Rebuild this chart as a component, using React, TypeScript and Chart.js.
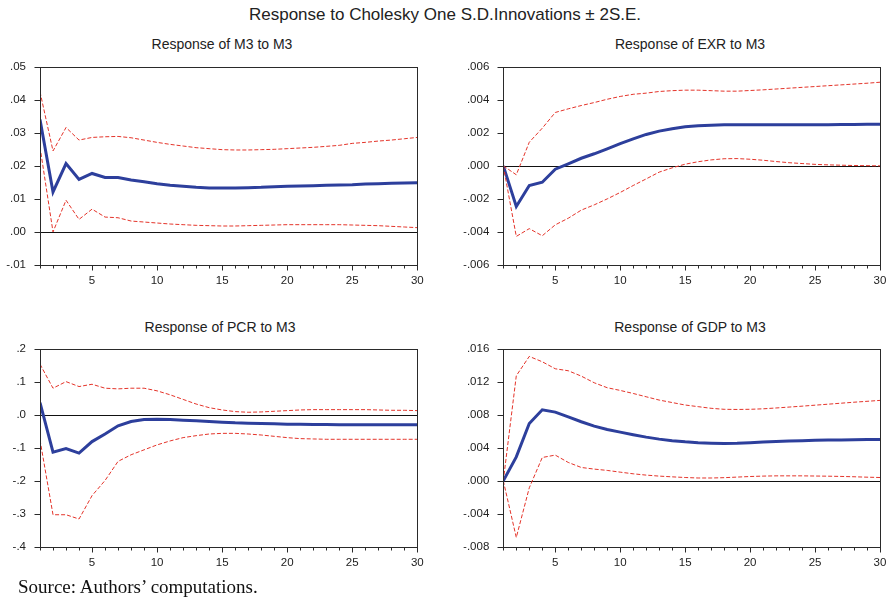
import React, { useEffect, useRef } from "react";
import { Chart, registerables } from "chart.js";

Chart.register(...registerables);

// Horizon (periods after the shock)
const periods = [
  1, 2, 3, 4, 5, 6, 7, 8, 9, 10, 11, 12, 13, 14, 15,
  16, 17, 18, 19, 20, 21, 22, 23, 24, 25, 26, 27, 28, 29, 30,
];
const xLabelTicks = [5, 10, 15, 20, 25, 30];

// Response of M3 to M3
const m3Resp = [
  0.034, 0.0121, 0.0207, 0.0159, 0.0177, 0.0165, 0.0165, 0.0157, 0.0152, 0.0146,
  0.0141, 0.0138, 0.0135, 0.0133, 0.0133, 0.0133, 0.0134, 0.0135, 0.0137, 0.0138,
  0.0139, 0.014, 0.0141, 0.0142, 0.0143, 0.0145, 0.0146, 0.0147, 0.0148, 0.0149,
];
const m3Upper = [
  0.0424, 0.0245, 0.0316, 0.0278, 0.0286, 0.0288, 0.0289, 0.0285, 0.0278, 0.0271,
  0.0265, 0.026, 0.0255, 0.0252, 0.0249, 0.0248, 0.0248, 0.0249, 0.025, 0.0252,
  0.0254, 0.0256, 0.0259, 0.0262, 0.0268, 0.0271, 0.0275, 0.0278, 0.0282, 0.0286,
];
const m3Lower = [
  0.0257, 0.0, 0.0096, 0.0038, 0.0069, 0.0045, 0.0043, 0.0033, 0.003, 0.0027,
  0.0024, 0.0022, 0.002, 0.0019, 0.0018, 0.0018, 0.0019, 0.002, 0.0021, 0.0022,
  0.0022, 0.0022, 0.0022, 0.0022, 0.0021, 0.002, 0.0019, 0.0017, 0.0015, 0.0013,
];
const m3Ticks = [-0.01, 0.0, 0.01, 0.02, 0.03, 0.04, 0.05];

// Response of EXR to M3
const exrResp = [
  0, -0.00246, -0.00119, -0.00099, -0.0002, 0.00012, 0.00046, 0.00073, 0.00103, 0.00135,
  0.00163, 0.0019, 0.0021, 0.00225, 0.00237, 0.00243, 0.00246, 0.00248, 0.00248, 0.00248,
  0.00248, 0.00248, 0.00248, 0.00248, 0.00248, 0.00249, 0.0025, 0.0025, 0.00251, 0.00252,
];
const exrUpper = [
  0, -0.00054, 0.00143, 0.00228, 0.00323, 0.00345, 0.00365, 0.00383, 0.00403, 0.0042,
  0.00433, 0.0044, 0.0045, 0.00455, 0.00458, 0.00458, 0.00455, 0.00452, 0.00452, 0.00456,
  0.0046, 0.00465, 0.0047, 0.00475, 0.0048, 0.00485, 0.0049, 0.00495, 0.005, 0.00506,
];
const exrLower = [
  0, -0.00427, -0.0038, -0.00423, -0.00357, -0.00317, -0.00268, -0.00236, -0.002, -0.00161,
  -0.00119, -0.00079, -0.00038, -0.00012, 0.0001, 0.00025, 0.00036, 0.00043, 0.00044, 0.0004,
  0.00034, 0.00026, 0.00019, 0.00014, 0.00009, 0.00006, 0.00004, 0.00002, 0.00001, 0,
];
const exrTicks = [-0.006, -0.004, -0.002, 0.0, 0.002, 0.004, 0.006];

// Response of PCR to M3
const pcrResp = [
  0.037, -0.113, -0.102, -0.116, -0.081, -0.058, -0.033, -0.02, -0.014, -0.013,
  -0.014, -0.016, -0.018, -0.02, -0.022, -0.024, -0.025, -0.026, -0.027, -0.028,
  -0.028, -0.029, -0.029, -0.03, -0.03, -0.03, -0.03, -0.03, -0.03, -0.03,
];
const pcrUpper = [
  0.154, 0.081, 0.101, 0.086, 0.093, 0.081, 0.079, 0.081, 0.081, 0.073,
  0.061, 0.047, 0.033, 0.022, 0.015, 0.01, 0.008, 0.009, 0.011, 0.013,
  0.015, 0.016, 0.016, 0.016, 0.016, 0.016, 0.015, 0.014, 0.014, 0.013,
];
const pcrLower = [
  -0.076, -0.303, -0.303, -0.316, -0.245, -0.199, -0.141, -0.121, -0.106, -0.091,
  -0.079, -0.069, -0.063, -0.058, -0.056, -0.056, -0.058, -0.061, -0.065, -0.069,
  -0.072, -0.073, -0.074, -0.074, -0.074, -0.074, -0.074, -0.074, -0.074, -0.074,
];
const pcrTicks = [-0.4, -0.3, -0.2, -0.1, 0.0, 0.1, 0.2];

// Response of GDP to M3
const gdpResp = [
  0, 0.0029, 0.00696, 0.00862, 0.00834, 0.00777, 0.00717, 0.00664, 0.00623, 0.00591,
  0.00559, 0.0053, 0.00506, 0.00487, 0.00473, 0.00463, 0.00457, 0.00453, 0.00456, 0.00463,
  0.0047, 0.00476, 0.00482, 0.00487, 0.00491, 0.00494, 0.00496, 0.00498, 0.005, 0.00502,
];
const gdpUpper = [
  0, 0.01275, 0.0151, 0.01445, 0.0136, 0.01336, 0.01271, 0.0119, 0.0113, 0.01097,
  0.0106, 0.0102, 0.0098, 0.0095, 0.0092, 0.009, 0.0088, 0.00868, 0.00866, 0.00868,
  0.00874, 0.00884, 0.00895, 0.00906, 0.00918, 0.0093, 0.00942, 0.00954, 0.00965, 0.00976,
];
const gdpLower = [
  0, -0.00688, -0.00085, 0.00283, 0.00312, 0.00223, 0.00162, 0.00142, 0.00126, 0.00105,
  0.00085, 0.00069, 0.00057, 0.00048, 0.0004, 0.00034, 0.00034, 0.00038, 0.00045, 0.00052,
  0.00057, 0.0006, 0.0006, 0.0006, 0.00058, 0.00056, 0.00053, 0.00049, 0.00044, 0.0004,
];
const gdpTicks = [-0.008, -0.004, 0.0, 0.004, 0.008, 0.012, 0.016];

const PAGE_W = 888;
const PAGE_H = 598;
const Y_AXIS_W = 40;
const X_AXIS_H = 25;
const SANS = '"Liberation Sans", Arial, Helvetica, sans-serif';
const SERIF = '"Liberation Serif", "Times New Roman", Times, serif';

const BLUE = "#2d3f9c";
const RED = "#e4342a";
const INK = "#222222";

// ".05", "-.002" style labels (no leading zero)
function fmt(v: number, decimals: number): string {
  const s = Number(v).toFixed(decimals);
  return s.replace(/^(-?)0\./, "$1.");
}

const framePlugin = {
  id: "irfFrame",
  beforeDatasetsDraw(chart: any) {
    const { ctx, chartArea: a, scales } = chart;
    const y0 = Math.round(scales.y.getPixelForValue(0)) + 0.5;
    ctx.save();
    ctx.strokeStyle = "#111";
    ctx.lineWidth = 1;
    ctx.beginPath();
    ctx.moveTo(a.left, y0);
    ctx.lineTo(a.right, y0);
    ctx.stroke();
    ctx.restore();
  },
  afterDatasetsDraw(chart: any) {
    const { ctx, chartArea: a, scales } = chart;
    const L = Math.round(a.left) + 0.5;
    const R = Math.round(a.right) + 0.5;
    const T = Math.round(a.top) + 0.5;
    const B = Math.round(a.bottom) + 0.5;
    ctx.save();
    ctx.strokeStyle = "#2a2a2a";
    ctx.lineWidth = 1;
    ctx.strokeRect(L, T, R - L, B - T);
    ctx.beginPath();
    // x tick marks: one per period, longer at labelled periods
    for (const p of periods) {
      const px = Math.round(scales.x.getPixelForValue(p)) + 0.5;
      const len = p % 5 === 0 ? 5 : 3;
      ctx.moveTo(px, B);
      ctx.lineTo(px, B + len);
    }
    // y tick marks
    for (const t of scales.y.ticks) {
      const py = Math.round(scales.y.getPixelForValue(t.value)) + 0.5;
      ctx.moveTo(L - 6, py);
      ctx.lineTo(L, py);
    }
    ctx.stroke();
    ctx.restore();
  },
};

type Area = { left: number; top: number; right: number; bottom: number };

type PanelProps = {
  resp: number[];
  upper: number[];
  lower: number[];
  yTicks: number[];
  decimals: number;
  area: Area;
};

function Panel({ resp, upper, lower, yTicks, decimals, area }: PanelProps) {
  const ref = useRef<HTMLCanvasElement | null>(null);

  useEffect(() => {
    if (!ref.current) return;
    const pts = (vals: number[]) => periods.map((p, i) => ({ x: p, y: vals[i] }));
    const chart = new Chart(ref.current, {
      type: "line",
      data: {
        datasets: [
          {
            data: pts(upper),
            borderColor: RED,
            borderWidth: 1,
            borderDash: [4, 2],
            pointRadius: 0,
            tension: 0,
            fill: false,
          },
          {
            data: pts(lower),
            borderColor: RED,
            borderWidth: 1,
            borderDash: [4, 2],
            pointRadius: 0,
            tension: 0,
            fill: false,
          },
          {
            data: pts(resp),
            borderColor: BLUE,
            borderWidth: 3,
            pointRadius: 0,
            tension: 0,
            fill: false,
          },
        ],
      },
      options: {
        responsive: false,
        animation: false,
        events: [],
        layout: {
          padding: {
            left: area.left - Y_AXIS_W,
            top: area.top,
            right: PAGE_W - area.right,
            bottom: PAGE_H - area.bottom - X_AXIS_H,
          },
        },
        plugins: {
          legend: { display: false },
          tooltip: { enabled: false },
          title: { display: false },
        },
        scales: {
          x: {
            type: "linear",
            min: 1,
            max: 30,
            grid: { display: false, drawTicks: false },
            border: { display: false },
            afterBuildTicks: (s: any) => {
              s.ticks = xLabelTicks.map((v) => ({ value: v }));
            },
            afterFit: (s: any) => {
              s.height = X_AXIS_H;
              s.paddingLeft = 0;
              s.paddingRight = 0;
            },
            ticks: {
              autoSkip: false,
              maxRotation: 0,
              padding: 9,
              color: INK,
              font: { family: SANS, size: 11.5 },
              callback: (v: any) => String(v),
            },
          },
          y: {
            type: "linear",
            min: yTicks[0],
            max: yTicks[yTicks.length - 1],
            grid: { display: false, drawTicks: false },
            border: { display: false },
            afterBuildTicks: (s: any) => {
              s.ticks = yTicks.map((v) => ({ value: v }));
            },
            afterFit: (s: any) => {
              s.width = Y_AXIS_W;
              s.paddingTop = 0;
              s.paddingBottom = 0;
            },
            ticks: {
              autoSkip: false,
              padding: 14,
              color: INK,
              font: { family: SANS, size: 11.5 },
              callback: (v: any) => fmt(v, decimals),
            },
          },
        },
      },
      plugins: [framePlugin],
    });
    return () => chart.destroy();
  }, [resp, upper, lower, yTicks, decimals, area]);

  return (
    <canvas
      ref={ref}
      width={PAGE_W}
      height={PAGE_H}
      style={{ position: "absolute", left: 0, top: 0, width: PAGE_W, height: PAGE_H }}
    />
  );
}

const textStyle = (cx: number, top: number, size: number, family: string): React.CSSProperties => ({
  position: "absolute",
  left: cx - 250,
  width: 500,
  top,
  textAlign: "center",
  fontFamily: family,
  fontSize: size,
  lineHeight: `${size}px`,
  color: INK,
  whiteSpace: "nowrap",
});

const AREA_TL: Area = { left: 40, top: 66.7, right: 417.3, bottom: 265 };
const AREA_TR: Area = { left: 503.3, top: 66.7, right: 880, bottom: 265 };
const AREA_BL: Area = { left: 40, top: 349, right: 417.3, bottom: 546.7 };
const AREA_BR: Area = { left: 503.3, top: 349, right: 880, bottom: 546.7 };

export default function App() {
  return (
    <div
      style={{
        position: "absolute",
        left: 0,
        top: 0,
        width: PAGE_W,
        height: PAGE_H,
        background: "#ffffff",
        overflow: "hidden",
      }}
    >
      <div style={textStyle(445, 5.5, 17, SANS)}>Response to Cholesky One S.D.Innovations ± 2S.E.</div>
      <div style={textStyle(222, 37, 14, SANS)}>Response of M3 to M3</div>
      <div style={textStyle(690, 37, 14, SANS)}>Response of EXR to M3</div>
      <div style={textStyle(220, 320.3, 14, SANS)}>Response of PCR to M3</div>
      <div style={textStyle(690, 320.3, 14, SANS)}>Response of GDP to M3</div>

      <Panel resp={m3Resp} upper={m3Upper} lower={m3Lower} yTicks={m3Ticks} decimals={2} area={AREA_TL} />
      <Panel resp={exrResp} upper={exrUpper} lower={exrLower} yTicks={exrTicks} decimals={3} area={AREA_TR} />
      <Panel resp={pcrResp} upper={pcrUpper} lower={pcrLower} yTicks={pcrTicks} decimals={1} area={AREA_BL} />
      <Panel resp={gdpResp} upper={gdpUpper} lower={gdpLower} yTicks={gdpTicks} decimals={3} area={AREA_BR} />

      <div
        style={{
          position: "absolute",
          left: 18,
          top: 576.8,
          fontFamily: SERIF,
          fontSize: 19,
          lineHeight: "19px",
          color: "#111",
          whiteSpace: "nowrap",
        }}
      >
        Source: Authors’ computations.
      </div>
    </div>
  );
}
